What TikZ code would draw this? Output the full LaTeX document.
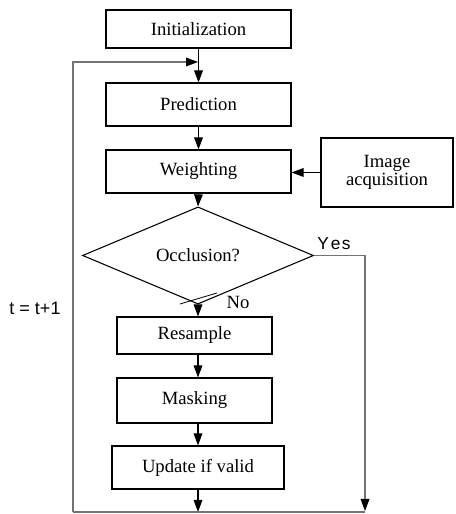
\documentclass[tikz,border=0pt]{standalone}
\usepackage{fontspec}
\setmainfont{Liberation Serif}
\setsansfont{Liberation Sans}
\usepackage{tikz}
\usetikzlibrary{calc, arrows.meta, shapes.geometric}

\tikzset{
  blocco/.style={draw, line width=0.8pt, inner sep=0pt, font=\fontsize{14}{16}\selectfont, align=center},
  punta/.style={-{Triangle[length=9pt,width=6.5pt,color=black]}},
  freccia/.style={line width=0.8pt, punta},
  ciclo/.style={line width=0.9pt, draw=black!55},
}

\begin{document}
\begin{tikzpicture}[x=0.75pt, y=0.75pt]
  \useasboundingbox (0,0) rectangle (455,514);

  % blocchi principali
  \node[blocco, minimum width=138.75pt, minimum height=28.5pt] (init) at (198.5,485) {Initialization};
  \node[blocco, minimum width=138.75pt, minimum height=32.25pt] (pred) at (198.5,409.5) {Prediction};
  \node[blocco, minimum width=138.75pt, minimum height=32.25pt] (weight) at (198.5,342.5) {Weighting};
  \node[blocco, minimum width=99pt, minimum height=51.75pt] (img) at (387,341.5) {Image\\[-2pt]acquisition};
  \node[blocco, diamond, minimum width=173.25pt, minimum height=54.75pt] (occl) at (198,258.5) {Occlusion?};
  \node[blocco, minimum width=116.25pt, minimum height=27.75pt] (resample) at (194.5,178.5) {Resample};
  \node[blocco, minimum width=116.25pt, minimum height=33.75pt] (mask) at (194.5,113.5) {Masking};
  \node[blocco, minimum width=129pt, minimum height=32.25pt] (update) at (198,46.5) {Update if valid};

  % punti del ciclo
  \coordinate (top) at (198,452);
  \coordinate (tl) at (73,452);
  \coordinate (bl) at (73,2);
  \coordinate (br) at (365,2);
  \coordinate (yr) at (365,258.5);
  \coordinate (ub) at (198,2);

  % frecce
  \draw[freccia] (init.south) -- (pred.north);
  \draw[freccia] (pred.south) -- (weight.north);
  \draw[freccia] (img.west) -- (weight.east |- img.west);
  \draw[freccia] (weight.south) -- (occl.north);
  \draw[freccia] (occl.south) -- (resample.north -| occl.south);
  \draw[freccia] (resample.south -| occl.south) -- (mask.north -| occl.south);
  \draw[freccia] (mask.south -| occl.south) -- (update.north);
  \draw[freccia] (update.south) -- (ub);

  % ramo Yes e ritorno
  \draw[ciclo] (bl) -- (br);
  \draw[ciclo, punta] (occl.east) -- (yr) -- ($(br)+(0,1)$);
  \draw[ciclo, punta] (bl) -- (tl) -- (top);

  % etichette
  \draw[line width=0.6pt] (180,210) -- (217,221);
  \node[font=\sffamily\fontsize{13}{15}\selectfont] (yes) at (334,270) {Y\kern1.5pt e\kern1pt s};
  \node[font=\fontsize{14}{16}\selectfont] (no) at (238,212) {No};
  \node[font=\sffamily\fontsize{13.5}{15}\selectfont] (t) at (35,206) {t = t+1};
\end{tikzpicture}
\end{document}
